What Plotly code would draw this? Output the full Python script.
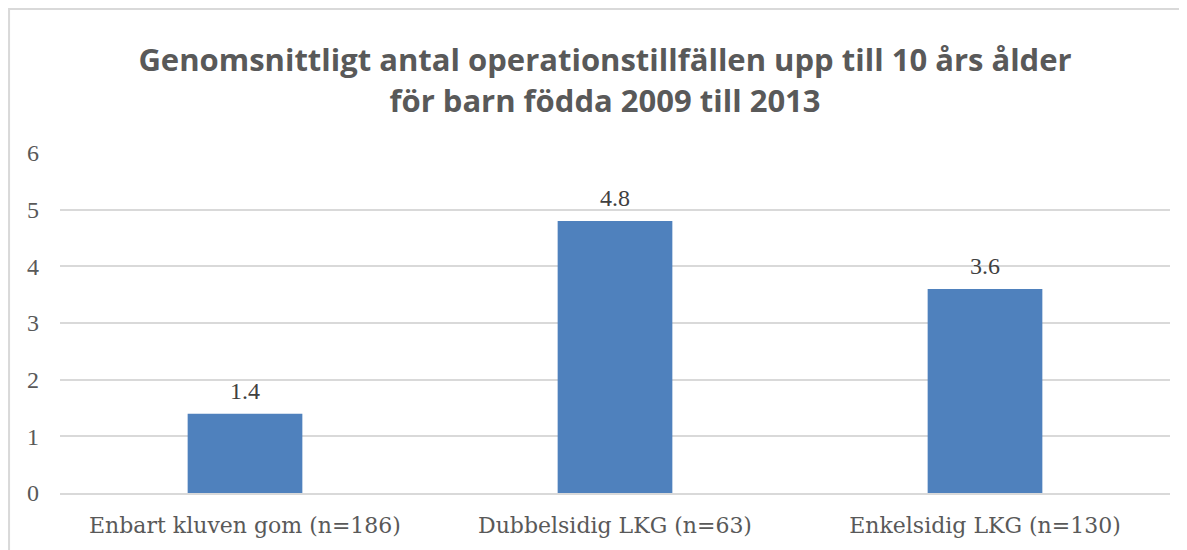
import plotly.graph_objects as go

# Genomsnittligt antal operationstillfällen per grupp
categories = ["Enbart kluven gom (n=186)", "Dubbelsidig LKG (n=63)", "Enkelsidig LKG (n=130)"]
values = [1.4, 4.8, 3.6]
y_ticks = [0, 1, 2, 3, 4, 5, 6]

grey = "#595959"
grid = "#d9d9d9"
serif = "DejaVu Serif, Liberation Serif, serif"
num_serif = "Liberation Serif, DejaVu Serif, serif"

fig = go.Figure()
fig.add_trace(go.Bar(x=categories, y=values, marker_color="#4f81bd",
                     marker_line_width=0, hoverinfo="x+y"))

# value labels above the bars
for c, v in zip(categories, values):
    fig.add_annotation(x=c, y=v, text=f"{v:.1f}", showarrow=False,
                       yanchor="bottom", yshift=8,
                       font=dict(family=num_serif, size=24, color="#404040"))

# chart-area frame (left and top edges visible in the crop)
fig.add_shape(type="rect", xref="paper", yref="paper",
              x0=-0.0459, x1=1.3, y0=-0.5, y1=1.4235,
              line=dict(color=grid, width=2), layer="below")

fig.update_layout(
    width=1187, height=550,
    margin=dict(l=52, r=25, t=145, b=65),
    paper_bgcolor="white", plot_bgcolor="white",
    showlegend=False, bargap=0.69,
    title=dict(text="Genomsnittligt antal operationstillfällen upp till 10 års ålder<br>för barn födda 2009 till 2013",
               x=0.491, xref="paper", xanchor="center", y=0.885, yanchor="top",
               font=dict(family="Open Sans, Lato, sans-serif", size=31, color=grey,
                         weight="bold")),
)
fig.update_yaxes(range=[0, 6], tickvals=y_ticks, showgrid=True, gridcolor=grid, gridwidth=1.5,
                 zeroline=False, showline=False, ticks="", ticklabelstandoff=20,
                 tickfont=dict(family=num_serif, size=24, color=grey), fixedrange=True)
fig.update_xaxes(showline=True, linecolor=grid, linewidth=1.5, ticks="", ticklabelstandoff=12,
                 tickfont=dict(family=serif, size=22, color=grey), fixedrange=True)

fig.write_html("out.html")
